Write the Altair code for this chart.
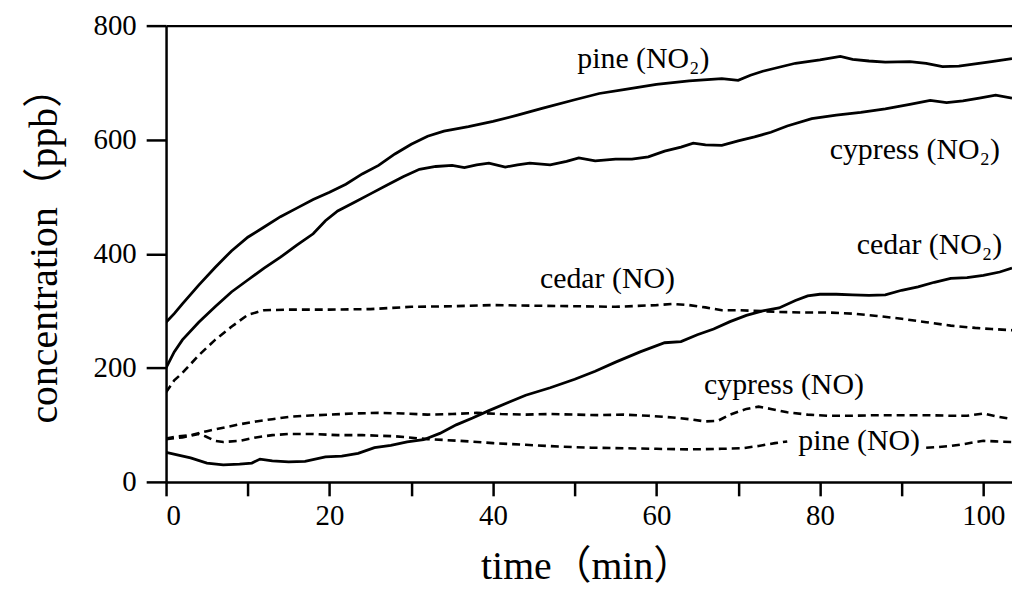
import altair as alt
import pandas as pd

FONT = "Liberation Serif, 'Noto Sans CJK TC', 'DejaVu Serif', serif"

# ---- series (time in min, concentration in ppb) ----
pine_no2_t = [0, 1, 2, 4, 6, 8, 10, 12, 14, 16, 18, 20, 22, 24, 26, 28, 30, 32, 34, 37, 40, 43, 46,
              50, 53, 56, 60, 64, 68, 70, 71.5, 73, 75, 77, 80, 82.5, 84, 86, 88, 91, 93, 95, 97, 99,
              101, 103.5]
pine_no2_v = [280, 295, 312, 345, 376, 405, 429, 447, 465, 480, 495, 508, 522, 540, 555, 575, 592,
              606, 615, 623, 632, 643, 655, 670, 681, 688, 697, 703, 707, 704, 713, 720, 727, 734,
              740, 746, 741, 738, 736, 737, 734, 728, 729, 733, 737, 742]

cypress_no2_t = [0, 1, 2, 4, 6, 8, 10, 12, 14, 16, 18, 19.5, 21, 23, 25, 27, 29, 31, 33, 35, 36.5,
                 38, 39.5, 41.5, 43, 44.5, 47, 49, 50.5, 52.5, 55, 57, 59, 61, 63, 64.5, 66, 68, 70,
                 72, 74, 76, 79, 82, 85, 88, 91, 93.5, 95.5, 97.5, 99.5, 101.5, 103.5]
cypress_no2_v = [200, 228, 249, 280, 307, 333, 354, 375, 394, 415, 435, 458, 475, 490, 505, 520, 535,
                 548, 553, 555, 551, 556, 559, 552, 556, 559, 556, 562, 568, 563, 566, 566, 570, 580,
                 587, 594, 591, 590, 598, 605, 613, 624, 637, 643, 648, 654, 662, 669, 665, 668, 673,
                 678, 673]

cedar_no2_t = [0, 1.5, 3, 5, 7, 9, 10.5, 11.5, 13, 15, 17, 19.5, 21.5, 23.5, 25.5, 27.5, 29.5, 31.5,
               33.5, 35.5, 37.5, 39.5, 42, 44, 47, 50, 52.5, 55, 58, 61, 63, 65, 67, 69, 71, 73, 75,
               77, 78.5, 80, 82, 84, 86, 88, 90, 92, 94, 96, 98, 100, 102, 103.5]
cedar_no2_v = [52, 47, 42, 33, 30, 31, 33, 40, 37, 35, 36, 44, 45, 50, 60, 64, 70, 74, 85, 100, 112,
               125, 140, 152, 165, 180, 194, 210, 228, 244, 246, 258, 268, 281, 292, 300, 305, 318,
               326, 329, 329, 328, 327, 328, 336, 342, 350, 357, 358, 362, 368, 375]

cedar_no_t = [0, 1, 2, 4, 6, 8, 10, 12, 15, 20, 25, 30, 35, 40, 45, 50, 55, 60, 62, 64, 66, 68, 70,
              72, 75, 78, 81, 84, 87, 90, 93, 96, 99, 101, 103.5]
cedar_no_v = [157, 178, 191, 222, 249, 272, 293, 301, 302, 302, 303, 307, 308, 310, 309, 308, 307,
              310, 312, 310, 306, 301, 301, 300, 298, 297, 297, 295, 291, 286, 280, 274, 270, 268,
              266]

cypress_no_t = [0, 1.5, 3, 5, 7, 9, 11, 13, 15, 17, 20, 23, 26, 29, 32, 35, 38, 41, 44, 47, 50, 53,
                56, 59, 62, 64, 66, 67.5, 69, 71, 72.5, 74, 76, 78.5, 81, 84, 87, 90, 93, 96, 98,
                100, 101.5, 103.5]
cypress_no_v = [76, 80, 82, 89, 95, 101, 106, 110, 114, 116, 118, 120, 121, 120, 118, 119, 121, 119,
                118, 119, 118, 117, 118, 116, 113, 110, 106, 107, 118, 128, 132, 128, 122, 118, 116,
                116, 117, 117, 117, 116, 116, 120, 115, 110]

# pine (NO) is interrupted by its label
pine_no_a_t = [0, 2, 4, 4.8, 6, 7, 9, 11, 13, 15, 18, 21, 24, 28, 32, 36, 40, 44, 48, 52, 56, 60,
               64, 68, 70.5, 72.5, 74.5, 76]
pine_no_a_v = [75, 78, 84, 80, 72, 70, 72, 78, 82, 84, 84, 82, 82, 80, 75, 72, 68, 65, 62, 60, 59,
               58, 57, 58, 59, 63, 68, 71]
pine_no_b_t = [93, 94.5, 96, 97.5, 99, 100, 101.5, 103.5]
pine_no_b_v = [60, 61, 63, 66, 70, 72, 71, 70]

# ---- labels ----
label_text = ["pine (NO₂)", "cypress (NO₂)", "cedar (NO₂)", "cedar (NO)", "cypress (NO)", "pine (NO)"]
label_t = [58.4, 91.6, 93.4, 54.0, 75.6, 84.8]
label_v = [742, 582, 415, 356, 169, 72]

x_ticks = [0, 10, 20, 30, 40, 50, 60, 70, 80, 90, 100]
y_ticks = [0, 200, 400, 600, 800]


def frame(seg, t, v):
    return pd.DataFrame({"seg": seg, "t": t, "v": v})


solid_df = pd.concat([
    frame("pine NO2", pine_no2_t, pine_no2_v),
    frame("cypress NO2", cypress_no2_t, cypress_no2_v),
    frame("cedar NO2", cedar_no2_t, cedar_no2_v),
])
dashed_df = pd.concat([
    frame("cedar NO", cedar_no_t, cedar_no_v),
    frame("cypress NO", cypress_no_t, cypress_no_v),
    frame("pine NO a", pine_no_a_t, pine_no_a_v),
    frame("pine NO b", pine_no_b_t, pine_no_b_v),
])
label_df = pd.DataFrame({"label": label_text, "t": label_t, "v": label_v})

xscale = alt.Scale(domain=[0, 103.5], nice=False, zero=False)
yscale = alt.Scale(domain=[0, 800], nice=False)

x_axis = alt.Axis(
    values=x_ticks, labelExpr="datum.value % 20 == 0 ? datum.label : ''",
    tickSize=14, tickWidth=2.5, domainWidth=2.5, tickColor="black", domainColor="black",
    labelFont=FONT, labelFontSize=29, labelColor="black", labelPadding=6, grid=False,
    title="time（min）", titleFont=FONT, titleFontSize=40, titleFontWeight="normal",
    titleColor="black", titleX=423, titleY=85, titleAlign="center", titleBaseline="middle",
)
y_axis = alt.Axis(
    values=y_ticks, tickSize=20, tickWidth=2.5, domainWidth=2.5, tickColor="black",
    domainColor="black", labelFont=FONT, labelFontSize=29, labelColor="black", labelPadding=10,
    grid=False, title="concentration（ppb）", titleFont=FONT, titleFontSize=40,
    titleFontWeight="normal", titleColor="black", titleAngle=-90, titleX=-122, titleY=221,
    titleAlign="center", titleBaseline="middle",
)
top_axis = alt.Axis(orient="top", labels=False, ticks=False, domain=True, domainWidth=2.2,
                    domainColor="black", grid=False, title=None)

solid = alt.Chart(solid_df).mark_line(color="black", strokeWidth=2.8, clip=True).encode(
    x=alt.X("t:Q", scale=xscale, axis=x_axis),
    y=alt.Y("v:Q", scale=yscale, axis=y_axis),
    detail="seg:N",
    order="t:Q",
)
dashed = alt.Chart(dashed_df).mark_line(color="black", strokeWidth=2.6, strokeDash=[8, 5],
                                        clip=True).encode(
    x=alt.X("t:Q", scale=xscale),
    y=alt.Y("v:Q", scale=yscale),
    detail="seg:N",
    order="t:Q",
)
labels = alt.Chart(label_df).mark_text(font=FONT, fontSize=30, color="black", align="center",
                                       baseline="middle").encode(
    x=alt.X("t:Q", scale=xscale, axis=top_axis),
    y=alt.Y("v:Q", scale=yscale),
    text="label:N",
)

chart = (
    alt.layer(alt.layer(solid, dashed), labels)
    .resolve_scale(x="independent")
    .properties(
        width=851, height=459,
        autosize=alt.AutoSizeParams(type="none"),
        padding={"left": 159, "top": 16, "right": 0, "bottom": 105},
        background="white",
    )
    .configure_view(stroke=None)
)

chart.save("out.html", embed_options={"renderer": "svg", "actions": False})
